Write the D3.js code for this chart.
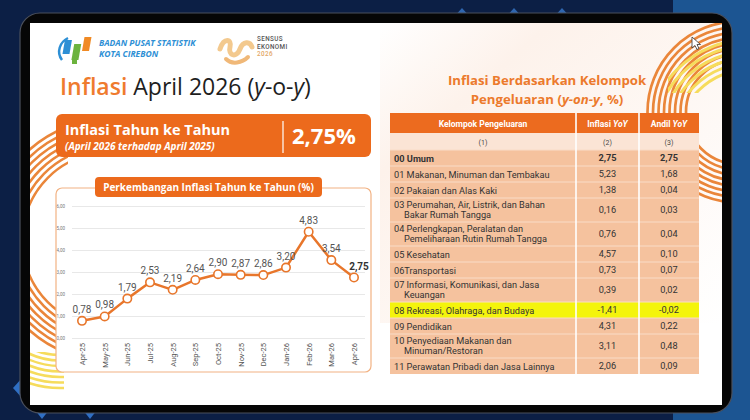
<!DOCTYPE html>
<html>
<head>
<meta charset="utf-8">
<script src="https://cdn.jsdelivr.net/npm/d3@7"></script>
<style>
  body { margin: 0; background: #0c1f45; }
  svg { display: block; }
</style>
</head>
<body>
<svg id="chart"></svg>
<script>
// chart data
const months = ["Apr-25", "May-25", "Jun-25", "Jul-25", "Aug-25", "Sep-25", "Oct-25",
                "Nov-25", "Dec-25", "Jan-26", "Feb-26", "Mar-26", "Apr-26"];
const inflation = [0.78, 0.98, 1.79, 2.53, 2.19, 2.64, 2.90, 2.87, 2.86, 3.20, 4.83, 3.54, 2.75];
const yTicks = [0, 1, 2, 3, 4, 5, 6];

// table data
const headers = ["Kelompok Pengeluaran", "Inflasi", "Andil"];
const subHeaders = ["(1)", "(2)", "(3)"];
const groups = [
    ["00 Umum"],
    ["01 Makanan, Minuman dan Tembakau"],
    ["02 Pakaian dan Alas Kaki"],
    ["03 Perumahan, Air, Listrik, dan Bahan", "Bakar Rumah Tangga"],
    ["04 Perlengkapan, Peralatan dan", "Pemeliharaan Rutin Rumah Tangga"],
    ["05 Kesehatan"],
    ["06Transportasi"],
    ["07 Informasi, Komunikasi, dan Jasa", "Keuangan"],
    ["08 Rekreasi, Olahraga, dan Budaya"],
    ["09 Pendidikan"],
    ["10 Penyediaan Makanan dan", "Minuman/Restoran"],
    ["11 Perawatan Pribadi dan Jasa Lainnya"]
];
const inflasiYoY = [2.75, 5.23, 1.38, 0.16, 0.76, 4.57, 0.73, 0.39, -1.41, 4.31, 3.11, 2.06];
const andilYoY = [2.75, 1.68, 0.04, 0.03, 0.04, 0.10, 0.07, 0.02, -0.02, 0.22, 0.48, 0.09];
const highlightRow = 8;

const W = 750, H = 420;
const locale = d3.formatLocale({ decimal: ",", thousands: ".", grouping: [3], currency: ["", ""], minus: "-" });
const fmt2 = locale.format(".2f");

const svg = d3.select("#chart").attr("width", W).attr("height", H);
const defs = svg.append("defs");

// ---- backdrop ----
svg.append("rect").attr("width", W).attr("height", H).attr("fill", "#0c1f45");
svg.append("rect").attr("x", 673).attr("width", 77).attr("height", H).attr("fill", "#1c5592");

[462, 514, 562].forEach(cx => {
    svg.append("path").attr("d", `M${cx - 8},17 L${cx},8 L${cx + 8},17 Z`).attr("fill", "#2f66b0");
});
svg.append("path").attr("d", "M22,378 L31,388 L22,398 L13,388 Z").attr("fill", "#2f6fc4");
[42, 90].forEach(cx => {
    svg.append("path").attr("d", `M${cx - 7},410 L${cx + 7},410 L${cx},419 Z`).attr("fill", "#2f6fc4");
});

// device bezel + screen
svg.append("rect").attr("x", 20).attr("y", 13).attr("width", 712).attr("height", 400)
    .attr("rx", 20).attr("fill", "#060606").attr("stroke", "#4b505c").attr("stroke-width", 1.2);
svg.append("rect").attr("x", 30).attr("y", 23).attr("width", 692).attr("height", 382).attr("fill", "#ffffff");

defs.append("clipPath").attr("id", "screen")
    .append("rect").attr("x", 30).attr("y", 23).attr("width", 692).attr("height", 382);
defs.append("clipPath").attr("id", "yellowTop")
    .append("rect").attr("x", 668).attr("y", 23).attr("width", 60).attr("height", 70);
defs.append("clipPath").attr("id", "orangeLeft")
    .append("rect").attr("x", 30).attr("y", 23).attr("width", 38).attr("height", 332);
defs.append("clipPath").attr("id", "yellowLeft")
    .append("rect").attr("x", 30).attr("y", 352).attr("width", 34).attr("height", 53);

const grad = defs.append("linearGradient").attr("id", "peach").attr("x1", 0).attr("y1", 0).attr("x2", 1).attr("y2", 1);
grad.append("stop").attr("offset", "0%").attr("stop-color", "#ffffff");
grad.append("stop").attr("offset", "25%").attr("stop-color", "#fdf2eb");
grad.append("stop").attr("offset", "100%").attr("stop-color", "#ffffff");

const deco = svg.append("g").attr("clip-path", "url(#screen)");
deco.append("rect").attr("x", 380).attr("y", 23).attr("width", 342).attr("height", 300).attr("fill", "url(#peach)");

// orange arch, top right
d3.range(52, 92, 5.5).forEach(r => {
    deco.append("circle").attr("cx", 738).attr("cy", 112).attr("r", r)
        .attr("fill", "none").attr("stroke", "#ea863a").attr("stroke-width", 2.7);
});
// yellow stripes, top right
const yTop = deco.append("g").attr("clip-path", "url(#yellowTop)");
d3.range(70, 106, 6).forEach(r => {
    yTop.append("circle").attr("cx", 748).attr("cy", 140).attr("r", r)
        .attr("fill", "none").attr("stroke", "#f6dc5c").attr("stroke-width", 3);
});
// orange stripes, bottom left
const oLeft = deco.append("g").attr("clip-path", "url(#orangeLeft)");
d3.range(88, 126, 5.5).forEach(r => {
    oLeft.append("circle").attr("cx", 110).attr("cy", 240).attr("r", r)
        .attr("fill", "none").attr("stroke", "#ea863a").attr("stroke-width", 2.5);
});
// yellow stripes, bottom left
const yLeft = deco.append("g").attr("clip-path", "url(#yellowLeft)");
d3.range(65, 102, 5.5).forEach(r => {
    yLeft.append("circle").attr("cx", 60).attr("cy", 290).attr("r", r)
        .attr("fill", "none").attr("stroke", "#f6dc5c").attr("stroke-width", 2.6);
});

// ---- header logos ----
const logo = svg.append("g").attr("transform", "translate(58,34)");
logo.append("path").attr("d", "M4,26 C-2,18 2,8 10,4").attr("fill", "none").attr("stroke", "#2d8fd5").attr("stroke-width", 2.5);
logo.append("rect").attr("x", 8).attr("y", 6).attr("width", 7).attr("height", 14).attr("fill", "#2d8fd5").attr("transform", "skewX(-10)");
logo.append("rect").attr("x", 18).attr("y", 10).attr("width", 7).attr("height", 16).attr("fill", "#6cb33e").attr("transform", "skewX(-10)");
logo.append("rect").attr("x", 27).attr("y", 3).attr("width", 7).attr("height", 14).attr("fill", "#f08a24").attr("transform", "skewX(-10)");
logo.append("rect").attr("x", 14).attr("y", 24).attr("width", 5).attr("height", 6).attr("fill", "#6cb33e");

svg.append("text").attr("x", 99).attr("y", 46).text("BADAN PUSAT STATISTIK")
    .attr("font-family", "Open Sans").attr("font-size", 8.5).attr("font-weight", 700)
    .attr("font-style", "italic").attr("fill", "#2d8fd5");
svg.append("text").attr("x", 99).attr("y", 57).text("KOTA CIREBON")
    .attr("font-family", "Open Sans").attr("font-size", 8.5).attr("font-weight", 700)
    .attr("font-style", "italic").attr("fill", "#2d8fd5");

const se = svg.append("g").attr("transform", "translate(218,35)");
se.append("path").attr("d", "M2,14 C6,2 14,4 12,12 C10,20 18,24 22,14 C25,6 32,6 34,12")
    .attr("fill", "none").attr("stroke", "#f3c98e").attr("stroke-width", 5).attr("stroke-linecap", "round");
se.append("path").attr("d", "M8,24 C14,30 24,28 30,22")
    .attr("fill", "none").attr("stroke", "#f0b878").attr("stroke-width", 4).attr("stroke-linecap", "round");
[["SENSUS", 41, "#555"], ["EKONOMI", 48.5, "#555"], ["2026", 56, "#e3a766"]].forEach(([t, yy, c]) => {
    svg.append("text").attr("x", 257).attr("y", yy).text(t)
        .attr("font-family", "Roboto").attr("font-size", 6.3).attr("font-weight", 500)
        .attr("letter-spacing", 0.4).attr("fill", c);
});

// ---- main title ----
const title = svg.append("text").attr("x", 60).attr("y", 95)
    .attr("font-family", "Open Sans").attr("font-size", 23).attr("font-weight", 500).attr("fill", "#1e1e1e");
title.append("tspan").text("Inflasi").attr("fill", "#ef7b2e").attr("font-weight", 600);
title.append("tspan").text(" April 2026 (");
title.append("tspan").text("y").attr("font-style", "italic");
title.append("tspan").text("-o-");
title.append("tspan").text("y").attr("font-style", "italic");
title.append("tspan").text(")");

// ---- headline box ----
svg.append("rect").attr("x", 56).attr("y", 114).attr("width", 315).attr("height", 43)
    .attr("rx", 6).attr("fill", "#ec6a1c");
svg.append("text").attr("x", 65).attr("y", 135).text("Inflasi Tahun ke Tahun")
    .attr("font-family", "Open Sans").attr("font-size", 14.5).attr("font-weight", 700).attr("fill", "#fff");
svg.append("text").attr("x", 65).attr("y", 149.5).text("(April 2026 terhadap April 2025)")
    .attr("font-family", "Open Sans").attr("font-size", 10).attr("font-weight", 700)
    .attr("font-style", "italic").attr("fill", "#fff");
svg.append("line").attr("x1", 283).attr("x2", 283).attr("y1", 121).attr("y2", 153)
    .attr("stroke", "#fff").attr("stroke-width", 1.2);
svg.append("text").attr("x", 292).attr("y", 144).text(fmt2(inflation[inflation.length - 1]) + "%")
    .attr("font-family", "Open Sans").attr("font-size", 22).attr("font-weight", 700).attr("fill", "#fff");

// ---- line chart panel ----
svg.append("rect").attr("x", 56).attr("y", 188).attr("width", 315).attr("height", 184)
    .attr("rx", 6).attr("fill", "#fff").attr("stroke", "#f2b283").attr("stroke-width", 1.2);
svg.append("rect").attr("x", 95).attr("y", 177).attr("width", 227).attr("height", 20)
    .attr("rx", 4).attr("fill", "#ec6a1c");
svg.append("text").attr("x", 208.5).attr("y", 191).attr("text-anchor", "middle")
    .text("Perkembangan Inflasi Tahun ke Tahun  (%)")
    .attr("font-family", "Open Sans").attr("font-size", 10).attr("font-weight", 700).attr("fill", "#fff");

const x = d3.scalePoint().domain(months).range([82, 354]);
const y = d3.scaleLinear().domain([0, 6]).range([338, 206]);

const yAxisG = svg.append("g").attr("transform", "translate(72,0)")
    .call(d3.axisLeft(y).tickValues(yTicks).tickSize(-293).tickPadding(7).tickFormat(fmt2));
yAxisG.select(".domain").remove();
yAxisG.selectAll(".tick line").attr("stroke", "#e8e8e8");
yAxisG.selectAll(".tick text").attr("font-family", "Roboto").attr("font-size", 4.5).attr("fill", "#777");

const xAxisG = svg.append("g").attr("transform", "translate(0,338)")
    .call(d3.axisBottom(x).tickSize(0));
xAxisG.select(".domain").remove();
xAxisG.selectAll(".tick text")
    .attr("transform", "rotate(-90)")
    .attr("x", -5).attr("y", 0).attr("dy", "0.35em")
    .attr("text-anchor", "end")
    .attr("font-family", "Roboto").attr("font-size", 7.5).attr("fill", "#555");

const line = d3.line().x((d, i) => x(months[i])).y(d => y(d));
svg.append("path").datum(inflation).attr("d", line)
    .attr("fill", "none").attr("stroke", "#e8762b").attr("stroke-width", 2.5).attr("stroke-linejoin", "round");

svg.selectAll(".pt").data(inflation).enter().append("circle")
    .attr("class", "pt")
    .attr("cx", (d, i) => x(months[i])).attr("cy", d => y(d)).attr("r", 4.2)
    .attr("fill", "#fff").attr("stroke", "#e8762b").attr("stroke-width", 1.6);

svg.selectAll(".val").data(inflation).enter().append("text")
    .attr("class", "val")
    .attr("x", (d, i) => x(months[i]) + (i === inflation.length - 1 ? 5 : 0))
    .attr("y", d => y(d) - 8)
    .attr("text-anchor", "middle")
    .attr("font-family", "Roboto").attr("font-size", 10)
    .attr("font-weight", (d, i) => i === inflation.length - 1 ? 700 : 400)
    .attr("fill", (d, i) => i === inflation.length - 1 ? "#333" : "#555")
    .text(d => fmt2(d));

// ---- right title ----
svg.append("text").attr("x", 547).attr("y", 84.5).attr("text-anchor", "middle")
    .text("Inflasi Berdasarkan Kelompok")
    .attr("font-family", "Open Sans").attr("font-size", 13.2).attr("font-weight", 700).attr("fill", "#ec7a2c");
const t2 = svg.append("text").attr("x", 547).attr("y", 103.5).attr("text-anchor", "middle")
    .attr("font-family", "Open Sans").attr("font-size", 13.2).attr("font-weight", 700).attr("fill", "#ec7a2c");
t2.append("tspan").text("Pengeluaran (");
t2.append("tspan").text("y-on-y").attr("font-style", "italic");
t2.append("tspan").text(", %)");

// ---- table ----
const colX = [390, 576, 639, 699];
const tbl = svg.append("g").attr("font-family", "Roboto");
const headY = 113, headH = 20, subH = 17;

tbl.append("rect").attr("x", colX[0]).attr("y", headY).attr("width", colX[3] - colX[0]).attr("height", headH).attr("fill", "#ec6b1f");
headers.forEach((h, i) => {
    const t = tbl.append("text").attr("x", (colX[i] + colX[i + 1]) / 2).attr("y", headY + 13.5)
        .attr("text-anchor", "middle").attr("font-size", 8.5).attr("font-weight", 700).attr("fill", "#fff");
    t.append("tspan").text(h);
    if (i > 0) t.append("tspan").text(" YoY").attr("font-style", "italic");
});

const subY = headY + headH;
tbl.append("rect").attr("x", colX[0]).attr("y", subY).attr("width", colX[3] - colX[0]).attr("height", subH).attr("fill", "#fbe4d5");
subHeaders.forEach((s, i) => {
    tbl.append("text").attr("x", (colX[i] + colX[i + 1]) / 2).attr("y", subY + 11.5)
        .attr("text-anchor", "middle").attr("font-size", 7).attr("fill", "#444").text(s);
});

let rowY = subY + subH;
groups.forEach((g, r) => {
    const h = g.length > 1 ? 24 : 16;
    tbl.append("rect").attr("x", colX[0]).attr("y", rowY).attr("width", colX[3] - colX[0]).attr("height", h)
        .attr("fill", r === highlightRow ? "#f4f40c" : "#f5c29e");
    tbl.append("line").attr("x1", colX[0]).attr("x2", colX[3]).attr("y1", rowY).attr("y2", rowY)
        .attr("stroke", "#f9dcc7").attr("stroke-width", 1);
    const bold = r === 0 ? 700 : 400;
    g.forEach((ln, k) => {
        tbl.append("text").attr("x", colX[0] + 4 + (k > 0 ? 10 : 0))
            .attr("y", rowY + (g.length > 1 ? 10 + k * 10 : 11.5))
            .attr("font-size", 9.2).attr("font-weight", bold).attr("fill", "#333").text(ln);
    });
    [inflasiYoY[r], andilYoY[r]].forEach((v, c) => {
        tbl.append("text").attr("x", (colX[c + 1] + colX[c + 2]) / 2)
            .attr("y", rowY + h / 2 + 3.3).attr("text-anchor", "middle")
            .attr("font-size", 9.2).attr("font-weight", bold).attr("fill", "#333").text(fmt2(v));
    });
    rowY += h;
});
[colX[1], colX[2]].forEach(cx => {
    tbl.append("line").attr("x1", cx).attr("x2", cx).attr("y1", headY).attr("y2", rowY)
        .attr("stroke", "#fff").attr("stroke-width", 1.6);
});

// mouse cursor
svg.append("path").attr("transform", "translate(692,37)")
    .attr("d", "M0,0 L0,11 L3,8.5 L5,12.5 L7,11.5 L5,7.5 L8.5,7.5 Z")
    .attr("fill", "#fff").attr("stroke", "#333").attr("stroke-width", 0.8);
</script>
</body>
</html>
